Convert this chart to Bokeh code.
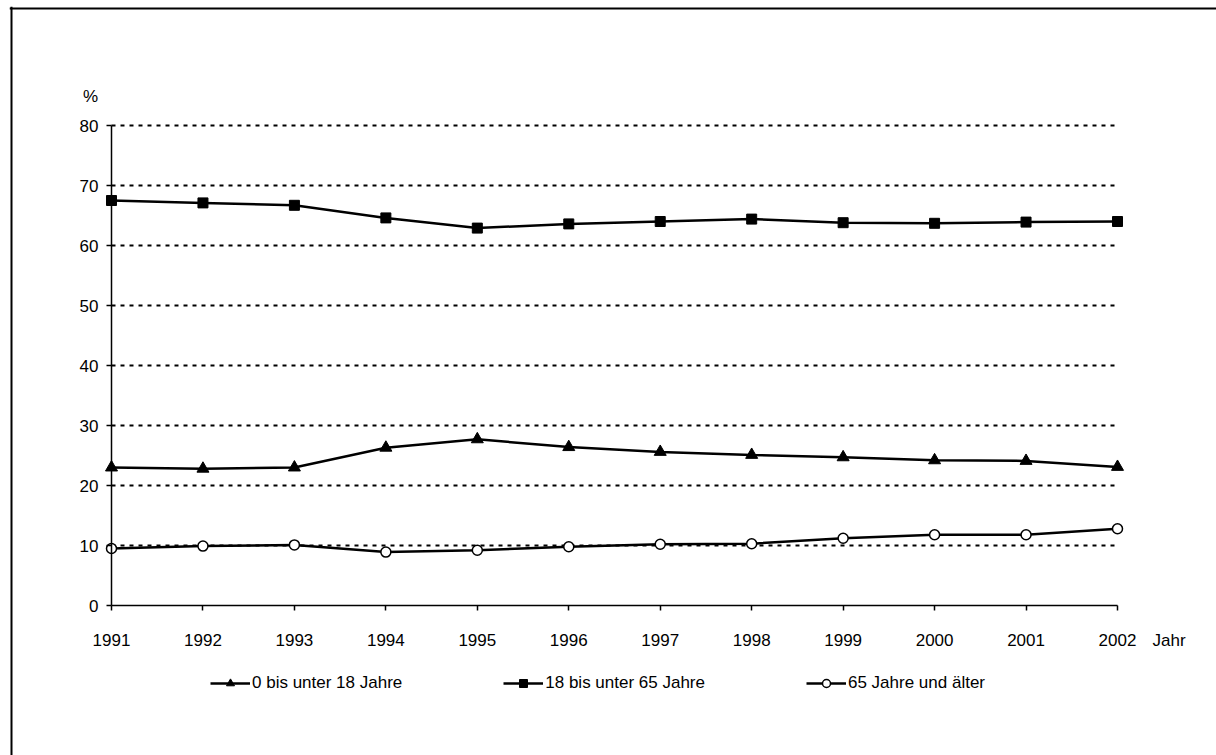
from bokeh.plotting import figure
from bokeh.models import Range1d, FixedTicker, Legend, LegendItem, Label, Span
from bokeh.embed import file_html
from bokeh.resources import INLINE

years = [1991, 1992, 1993, 1994, 1995, 1996, 1997, 1998, 1999, 2000, 2001, 2002]
kids = [23.0, 22.8, 23.0, 26.3, 27.7, 26.4, 25.6, 25.1, 24.7, 24.2, 24.1, 23.1]
adults = [67.5, 67.1, 66.7, 64.6, 62.9, 63.6, 64.0, 64.4, 63.8, 63.7, 63.9, 64.0]
seniors = [9.5, 9.9, 10.1, 8.9, 9.2, 9.8, 10.2, 10.3, 11.2, 11.8, 11.8, 12.8]
series_labels = ["0 bis unter 18 Jahre", "18 bis unter 65 Jahre", "65 Jahre und älter"]
y_ticks = [0, 10, 20, 30, 40, 50, 60, 70, 80]
grid_ticks = [10, 20, 30, 40, 50, 60, 70, 80]
y_unit = "%"
x_unit = "Jahr"

FONT = "Liberation Sans"
FS = "17px"

# page-pixel layout constants (the outer frame continues beyond the window, as in the source crop)
PANEL = 50
FRAME_LEFT, FRAME_TOP = 9, 6
FW, FH = 1221, 764
BORDER_X, BORDER_Y = 11, 8
AX_LEFT, AX_RIGHT = 111, 1117     # page x of first / last year
AX_TOP, AX_BOTTOM = 125, 605      # page y of top / bottom y tick
LEGEND_X, LEGEND_BOTTOM = 210, 693
frame_bottom = FRAME_TOP + FH
ppx = (AX_RIGHT - AX_LEFT) / (years[-1] - years[0])
ppy = (AX_BOTTOM - AX_TOP) / (y_ticks[-1] - y_ticks[0])
x0 = years[0] - (AX_LEFT - FRAME_LEFT) / ppx
x1 = x0 + FW / ppx
y0 = y_ticks[0] - (frame_bottom - AX_BOTTOM) / ppy
y1 = y_ticks[0] + (AX_BOTTOM - FRAME_TOP) / ppy

p = figure(
    frame_width=FW, frame_height=FH,
    min_border_left=PANEL, min_border_bottom=PANEL, min_border_top=0, min_border_right=0,
    x_range=Range1d(x0, x1), y_range=Range1d(y0, y1),
    output_backend="svg", toolbar_location=None,
)
p.margin = (FRAME_TOP, 0, 0, FRAME_LEFT - PANEL)
p.outline_line_color = None
p.background_fill_color = None
p.border_fill_color = None
p.xgrid.visible = False
p.ygrid.visible = False

# outer frame (top and left edges of the source's box)
p.add_layout(Span(location=x0 + (BORDER_X - FRAME_LEFT) / ppx, dimension="height",
                  line_color="black", line_width=2))
p.add_layout(Span(location=y1 - (BORDER_Y - FRAME_TOP) / ppy, dimension="width",
                  line_color="black", line_width=2))

# dotted horizontal grid lines between first and last year
p.segment(x0=[years[0]] * len(grid_ticks), x1=[years[-1]] * len(grid_ticks),
          y0=grid_ticks, y1=grid_ticks, line_color="black", line_width=2, line_dash="4 5")

xa = p.xaxis[0]
xa.ticker = FixedTicker(ticks=years)
xa.major_label_overrides = {y: str(y) for y in years}
xa.bounds = (years[0], years[-1])
xa.fixed_location = y_ticks[0]
ya = p.yaxis[0]
ya.ticker = FixedTicker(ticks=y_ticks)
ya.bounds = (y_ticks[0], y_ticks[-1])
ya.fixed_location = years[0]
for ax in (xa, ya):
    ax.axis_line_color = "black"
    ax.axis_line_width = 1.5
    ax.major_tick_line_color = "black"
    ax.major_tick_line_width = 1.5
    ax.major_tick_out = 5
    ax.major_tick_in = 0
    ax.minor_tick_line_color = None
    ax.major_label_text_font = FONT
    ax.major_label_text_font_size = FS
    ax.major_label_text_color = "black"
xa.major_label_standoff = 23
ya.major_label_standoff = 8

l1 = p.line(years, kids, line_color="black", line_width=2.5)
s1 = p.scatter(years, kids, marker="triangle", size=12, fill_color="black", line_color="black")
l2 = p.line(years, adults, line_color="black", line_width=2.5)
s2 = p.scatter(years, adults, marker="square", size=10, fill_color="black", line_color="black")
l3 = p.line(years, seniors, line_color="black", line_width=2.5)
s3 = p.scatter(years, seniors, marker="circle", size=10, fill_color="white", line_color="black", line_width=1.5)

legend = Legend(
    items=[LegendItem(label=series_labels[0], renderers=[l1, s1]),
           LegendItem(label=series_labels[1], renderers=[l2, s2]),
           LegendItem(label=series_labels[2], renderers=[l3, s3])],
    orientation="horizontal", location=(LEGEND_X - FRAME_LEFT, frame_bottom - LEGEND_BOTTOM),
    glyph_width=40, glyph_height=20, label_standoff=2, spacing=101,
    padding=0, margin=0,
    border_line_color=None, background_fill_alpha=0,
    label_text_font=FONT, label_text_font_size=FS, label_text_color="black",
)
p.add_layout(legend, "center")

p.add_layout(Label(x=years[0], y=y_ticks[-1], x_offset=-21, y_offset=29, text=y_unit,
                   text_align="center", text_baseline="middle",
                   text_font=FONT, text_font_size=FS, text_color="black"))
p.add_layout(Label(x=years[-1], y=y_ticks[0], x_offset=35, y_offset=-35, text=x_unit,
                   text_align="left", text_baseline="middle",
                   text_font=FONT, text_font_size=FS, text_color="black"))

open("out.html", "w").write(file_html(p, INLINE))
